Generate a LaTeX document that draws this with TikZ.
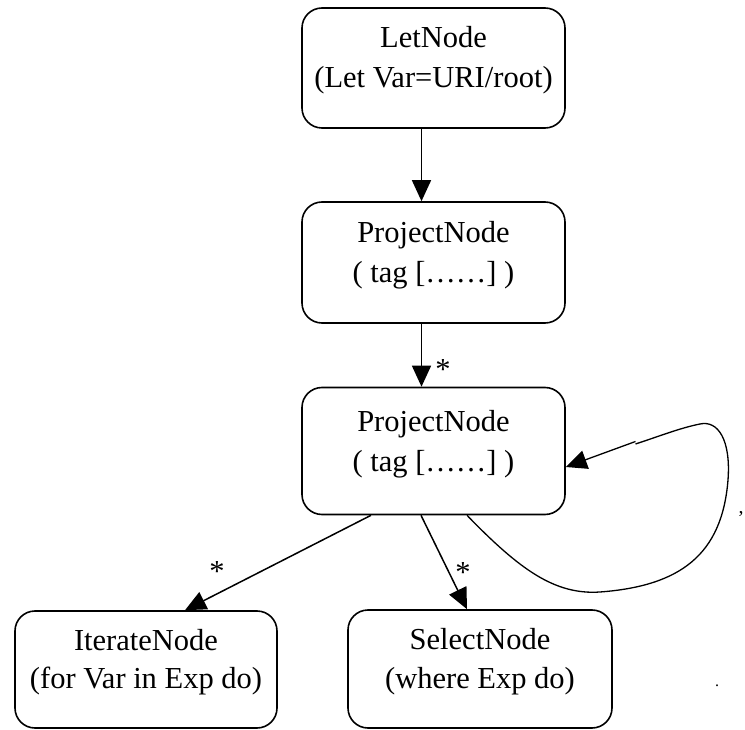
\documentclass[tikz,border=0pt]{standalone}
\usepackage{fontspec}
\setmainfont{Liberation Serif}
\usetikzlibrary{arrows.meta,calc}
\begin{document}
\begin{tikzpicture}[x=1pt,y=-1pt,
  box/.style={draw,line width=1.6pt,rounded corners=20pt,minimum width=263pt,inner sep=0pt},
  txt/.style={anchor=base,inner sep=0pt,font=\fontsize{30.5}{36}\selectfont},
  lbl/.style={inner sep=0pt,font=\fontsize{30.5}{36}\selectfont},
  conn/.style={line width=1.5pt,-{Triangle[length=21pt,width=19pt]}}]
\useasboundingbox (0,0) rectangle (745,730);
% boxes
\node[box,minimum height=120pt] (let) at (433.5,68) {};
\node[box,minimum height=121pt] (p1) at (433.5,262.5) {};
\node[box,minimum height=127pt] (p2) at (433.5,451) {};
\node[box,minimum height=117pt,minimum width=262pt] (it) at (146,669.5) {};
\node[box,minimum height=118pt,minimum width=264pt] (sel) at (480,669) {};
% texts
\node[txt] (letA) at ([yshift=20pt]let.center) {LetNode};
\node[txt] (letB) at ([yshift=-20pt]let.center) {(Let Var=URI/root)};
\node[txt] (p1A) at ([yshift=20pt]p1.center) {ProjectNode};
\node[txt] (p1B) at ([yshift=-20pt]p1.center) {( tag [……] )};
\node[txt] (p2A) at ([yshift=20pt]p2.center) {ProjectNode};
\node[txt] (p2B) at ([yshift=-20pt]p2.center) {( tag [……] )};
\node[txt] (itA) at ([yshift=19.5pt]it.center) {IterateNode};
\node[txt] (itB) at ([yshift=-19pt]it.center) {(for Var in Exp do)};
\node[txt] (selA) at ([yshift=19.5pt]sel.center) {SelectNode};
\node[txt] (selB) at ([yshift=-19pt]sel.center) {(where Exp do)};
% connectors
\draw[conn] ([xshift=-12pt]let.south) -- ([xshift=-12pt]p1.north);
\draw[conn] ([xshift=-12pt]p1.south) -- ([xshift=-12pt]p2.north);
\draw[conn] ([xshift=-62.5pt]p2.south) -- ([xshift=39pt]it.north);
\draw[conn] ([xshift=-12.5pt]p2.south) -- ([xshift=-13pt]sel.north);
\coordinate (kink) at (635.5,444);
\draw[line width=1.3pt] ([xshift=33.5pt]p2.south) .. controls (520,570) and (555,595) .. (600,592)
  .. controls (680,586) and (722,555) .. (728,480)
  .. controls (731,440) and (718,420) .. (700,424)
  .. controls (680,428) and (660,436) .. (kink);
\draw[conn,line width=1.3pt] ([yshift=2.5pt]kink) -- ([yshift=-16pt]p2.east);
% multiplicity labels
\node[lbl] (s1) at (443,370) {*};
\node[lbl] (s2) at (217,572) {*};
\node[lbl] (s3) at (463,573) {*};
% stray marks
\node[inner sep=0pt,font=\fontsize{20}{24}\selectfont] (m1) at (741,514) {,};
\node[inner sep=0pt,font=\fontsize{16}{20}\selectfont] (m2) at (717,686) {.};
\end{tikzpicture}
\end{document}
